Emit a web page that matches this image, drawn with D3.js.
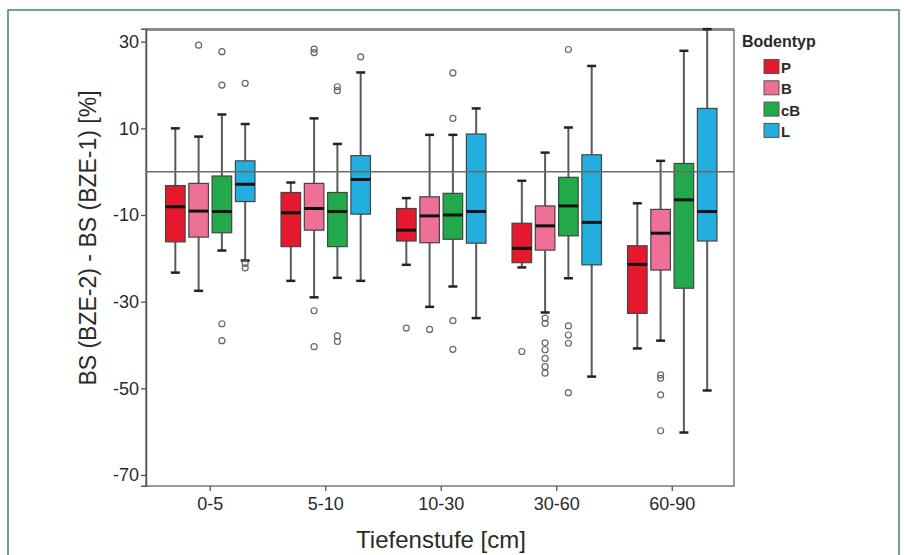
<!DOCTYPE html>
<html>
<head>
<meta charset="utf-8">
<script src="https://cdn.jsdelivr.net/npm/d3@7"></script>
<style>
  html, body { margin: 0; padding: 0; background: #ffffff; }
  svg { display: block; font-family: "Liberation Sans", Arial, sans-serif; }
</style>
</head>
<body>
<svg id="chart" width="904" height="555"></svg>
<script>
// ---------- data ----------
const categories = ["0-5", "5-10", "10-30", "30-60", "60-90"];
const types = ["P", "B", "cB", "L"];
const typeColors = ["#e5182e", "#ef7096", "#22a94b", "#22afe0"];
const yTicks = [30, 10, -10, -30, -50, -70];

// stats per category: [whiskerLow, q1, median, q3, whiskerHigh]
const statsP  = [[-23.3, -16.2, -8.1, -3.2, 10.0], [-25.2, -17.3, -9.5, -4.8, -2.5], [-21.5, -16.0, -13.5, -8.5, -6.1], [-22.1, -21.0, -17.7, -11.9, -2.1], [-40.8, -32.7, -21.4, -17.1, -7.3]];
const statsB  = [[-27.5, -15.1, -9.1, -2.7, 8.1], [-29.0, -13.5, -8.5, -2.7, 12.3], [-31.2, -16.4, -10.2, -5.8, 8.5], [-32.5, -18.1, -12.5, -7.9, 4.4], [-39.0, -22.7, -14.2, -8.7, 2.5]];
const statsCB = [[-18.2, -14.1, -9.2, -1.0, 13.2], [-24.5, -17.3, -9.2, -4.8, 6.4], [-26.5, -15.6, -10.0, -5.0, 8.5], [-24.6, -14.8, -7.9, -1.3, 10.2], [-60.2, -26.9, -6.5, 1.9, 27.9]];
const statsL  = [[-20.5, -6.9, -2.9, 2.5, 11.0], [-25.2, -9.8, -1.8, 3.7, 22.9], [-33.8, -16.5, -9.2, 8.7, 14.6], [-47.3, -21.5, -11.7, 3.9, 24.4], [-50.5, -16.0, -9.2, 14.6, 32.9]];

// outliers per category
const outP  = [[], [], [-36.1], [-41.5], []];
const outB  = [[29.2], [27.5, 28.3, -32.1, -40.4], [-36.4], [-33.8, -35.0, -39.5, -41.1, -43.1, -45.0, -46.5], [-46.9, -47.7, -51.5, -59.8]];
const outCB = [[27.7, 20.0, -35.1, -39.0], [19.6, 18.7, -37.9, -39.2], [22.8, 12.3, -34.4, -41.0], [28.2, -35.6, -37.7, -39.6, -51.0], []];
const outL  = [[20.4, -21.2, -22.2], [26.5], [], [], []];

const allStats = [statsP, statsB, statsCB, statsL];
const allOut = [outP, outB, outCB, outL];

// ---------- layout ----------
const svg = d3.select("#chart");
const frame = { left: 146, right: 734, top: 29.5, bottom: 486 };

// outer green border
svg.append("rect")
  .attr("x", 8).attr("y", 10).attr("width", 891).attr("height", 560)
  .attr("fill", "none").attr("stroke", "#3b8a57").attr("stroke-width", 1.5);

const x0 = d3.scaleBand().domain(categories).range([152.5, 730]).paddingInner(0).paddingOuter(0);
const x1 = d3.scaleBand().domain(types).range([0, x0.bandwidth()]).paddingInner(0.16).paddingOuter(0.56);
const y = d3.scaleLinear().domain([-72.5, 33]).range([485.8, 28.7]);

// frame
svg.append("rect")
  .attr("x", frame.left).attr("y", frame.top)
  .attr("width", frame.right - frame.left).attr("height", frame.bottom - frame.top)
  .attr("fill", "#fff").attr("stroke", "#666").attr("stroke-width", 1.3);
svg.append("line")
  .attr("x1", frame.left).attr("x2", frame.right)
  .attr("y1", frame.top).attr("y2", frame.top)
  .attr("stroke", "#8a8a8a").attr("stroke-width", 3);

// axes
const yAxis = d3.axisLeft(y).tickValues(yTicks).tickSize(5).tickPadding(2).tickFormat(d3.format("d"));
const gy = svg.append("g").attr("transform", `translate(${frame.left},0)`).call(yAxis);
gy.select(".domain").attr("stroke", "#555").attr("stroke-width", 1.5);
gy.selectAll(".tick line").attr("stroke", "#555").attr("stroke-width", 1.3);
gy.selectAll(".tick text").attr("font-size", 18).attr("fill", "#2a2a2a")
  .attr("font-family", "Liberation Sans, Arial, sans-serif").text(d => d < 0 ? "-" + Math.abs(d) : d);

const xAxis = d3.axisBottom(x0).tickSize(5).tickPadding(6);
const gx = svg.append("g").attr("transform", `translate(0,${frame.bottom})`).call(xAxis);
gx.select(".domain").remove();
gx.selectAll(".tick line").attr("stroke", "#555").attr("stroke-width", 1.3);
gx.selectAll(".tick text").attr("font-size", 18).attr("fill", "#2a2a2a")
  .attr("font-family", "Liberation Sans, Arial, sans-serif");

// axis titles
svg.append("text")
  .attr("transform", `translate(96,238) rotate(-90)`)
  .attr("text-anchor", "middle")
  .attr("font-size", 23).attr("fill", "#2a2a2a")
  .text("BS (BZE-2) - BS (BZE-1) [%]");
svg.append("text")
  .attr("x", 441).attr("y", 548)
  .attr("text-anchor", "middle")
  .attr("font-size", 24).attr("fill", "#2a2a2a")
  .text("Tiefenstufe [cm]");

// boxes
const capW = 9;
types.forEach((t, ti) => {
  const g = svg.append("g");
  categories.forEach((c, ci) => {
    const s = allStats[ti][ci];
    const bx = x0(c) + x1(t);
    const bw = x1.bandwidth();
    const cx = bx + bw / 2;
    // whiskers
    g.append("line").attr("x1", cx).attr("x2", cx).attr("y1", y(s[4])).attr("y2", y(s[3]))
      .attr("stroke", "#5a5a5a").attr("stroke-width", 2);
    g.append("line").attr("x1", cx).attr("x2", cx).attr("y1", y(s[1])).attr("y2", y(s[0]))
      .attr("stroke", "#5a5a5a").attr("stroke-width", 2);
    // caps
    [s[0], s[4]].forEach(v => {
      g.append("line").attr("x1", cx - capW / 2).attr("x2", cx + capW / 2)
        .attr("y1", y(v)).attr("y2", y(v))
        .attr("stroke", "#222").attr("stroke-width", 2.5);
    });
    // box
    g.append("rect").attr("x", bx).attr("y", y(s[3]))
      .attr("width", bw).attr("height", y(s[1]) - y(s[3]))
      .attr("fill", typeColors[ti]).attr("stroke", "#444").attr("stroke-width", 1.2);
    // median
    g.append("line").attr("x1", bx).attr("x2", bx + bw)
      .attr("y1", y(s[2])).attr("y2", y(s[2]))
      .attr("stroke", "#111").attr("stroke-width", 3);
    // outliers
    allOut[ti][ci].forEach(v => {
      g.append("circle").attr("cx", cx).attr("cy", y(v)).attr("r", 3)
        .attr("fill", "none").attr("stroke", "#666").attr("stroke-width", 1.2);
    });
  });
});

// zero reference line
svg.append("line")
  .attr("x1", frame.left).attr("x2", frame.right)
  .attr("y1", y(0)).attr("y2", y(0))
  .attr("stroke", "#6a6a6a").attr("stroke-width", 1.6);

// legend
const lg = svg.append("g");
lg.append("text").attr("x", 742).attr("y", 47)
  .attr("font-size", 16).attr("font-weight", "bold").attr("fill", "#2a2a2a")
  .text("Bodentyp");
types.forEach((t, i) => {
  const yy = 59.5 + i * 21.3;
  lg.append("rect").attr("x", 764).attr("y", yy).attr("width", 15).attr("height", 14)
    .attr("fill", typeColors[i]).attr("stroke", "#555").attr("stroke-width", 1);
  lg.append("text").attr("x", 781).attr("y", yy + 13.5)
    .attr("font-size", 15).attr("font-weight", "bold").attr("fill", "#2a2a2a")
    .text(t);
});
</script>
</body>
</html>
